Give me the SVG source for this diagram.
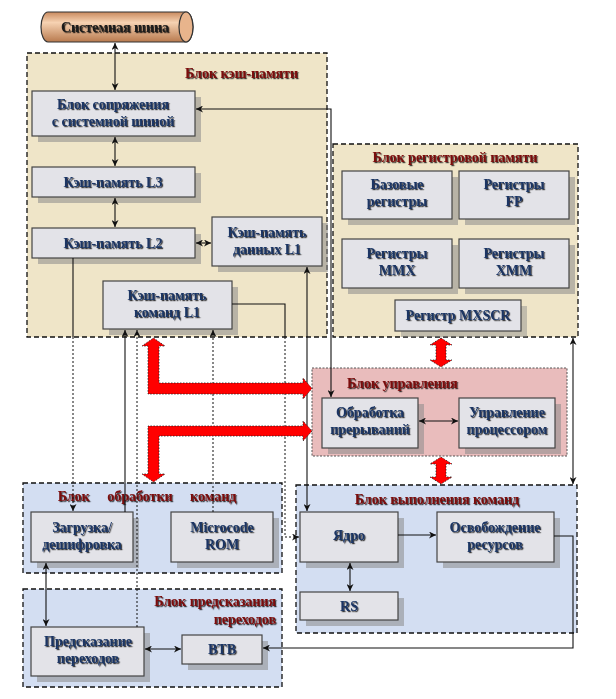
<svg xmlns="http://www.w3.org/2000/svg" width="616" height="699" viewBox="0 0 616 699">
<defs>
<linearGradient id="cyl" x1="0" y1="0" x2="0" y2="1">
<stop offset="0" stop-color="#C98A5E"/>
<stop offset="0.35" stop-color="#F6D2B2"/>
<stop offset="1" stop-color="#B87A4E"/>
</linearGradient>
<filter id="ts" x="-10%" y="-30%" width="130%" height="160%">
<feDropShadow dx="1.2" dy="1.2" stdDeviation="0.4" flood-color="#000" flood-opacity="0.75"/>
</filter>
<marker id="ah" viewBox="0 0 10 10" refX="10" refY="5" markerWidth="7" markerHeight="7" orient="auto-start-reverse" markerUnits="userSpaceOnUse">
<path d="M0,0 L10,5 L0,10 L3,5 Z" fill="#111"/>
</marker>
</defs>
<style>
.blk{stroke:#111;stroke-width:1.3;stroke-dasharray:5,3}
.tan{fill:#EFE5C8}
.blue{fill:#D3DEF2}
.pink{fill:#E9BCBC}
.box{fill:#E3E3E8;stroke:#444;stroke-width:1.2}
.sh{fill:#8a8a8a;opacity:0.55}
.t{font-family:"Liberation Serif","Times New Roman",serif;font-weight:bold;font-size:14px;fill:#1B3563;text-anchor:middle;filter:url(#ts)}
.tt{font-family:"Liberation Serif","Times New Roman",serif;font-weight:bold;font-size:14px;fill:#7A0A0A;filter:url(#ts)}
.ln{fill:none;stroke:#111;stroke-width:1.1}
.dl{fill:none;stroke:#111;stroke-width:1;stroke-dasharray:2,2}
.red{fill:#FF0000;stroke:#222;stroke-width:0.8;stroke-dasharray:1.5,1.5}
</style>
<rect width="616" height="699" fill="#fff"/>

<!-- system bus -->
<g id="bus">
<path d="M48,12 H186 A7,15 0 0 1 186,42 H48 A7,15 0 0 1 48,12 Z" fill="url(#cyl)" stroke="#333" stroke-width="1.2"/>
<ellipse cx="186" cy="27" rx="7" ry="15" fill="#E8B48C" stroke="#333" stroke-width="1.2"/>
<text class="t" x="115" y="32" style="fill:#1a1a1a">Системная шина</text>
</g>

<!-- cache block -->
<g id="cache-block">
<rect class="blk tan" x="27" y="53" width="300" height="284"/>
<text class="tt" x="185" y="78">Блок кэш-памяти</text>
</g>
<g id="bus-interface">
<rect class="sh" x="38" y="97" width="163" height="45"/>
<rect class="box" x="32" y="91" width="163" height="45"/>
<text class="t" x="113" y="109">Блок сопряжения<tspan x="113" dy="17">с системной шиной</tspan></text>
</g>
<g id="l3">
<rect class="sh" x="38" y="173" width="163" height="30"/>
<rect class="box" x="32" y="167" width="163" height="30"/>
<text class="t" x="113" y="187">Кэш-память L3</text>
</g>
<g id="l2">
<rect class="sh" x="38" y="234" width="163" height="30"/>
<rect class="box" x="32" y="228" width="163" height="30"/>
<text class="t" x="113" y="248">Кэш-память L2</text>
</g>
<g id="l1-data">
<rect class="sh" x="218" y="223" width="110" height="49"/>
<rect class="box" x="212" y="217" width="110" height="49"/>
<text class="t" x="267" y="237">Кэш-память<tspan x="267" dy="17">данных L1</tspan></text>
</g>
<g id="l1-instr">
<rect class="sh" x="109" y="287" width="129" height="48"/>
<rect class="box" x="103" y="281" width="129" height="48"/>
<text class="t" x="167" y="300">Кэш-память<tspan x="167" dy="17">команд L1</tspan></text>
</g>

<!-- register block -->
<g id="reg-block">
<rect class="blk tan" x="333" y="144" width="245" height="193"/>
<text class="tt" x="455" y="162" text-anchor="middle">Блок регистровой памяти</text>
</g>
<g id="base-regs">
<rect class="sh" x="348" y="177" width="110" height="48"/>
<rect class="box" x="342" y="171" width="110" height="48"/>
<text class="t" x="397" y="189">Базовые<tspan x="397" dy="17">регистры</tspan></text>
</g>
<g id="fp-regs">
<rect class="sh" x="465" y="177" width="110" height="48"/>
<rect class="box" x="459" y="171" width="110" height="48"/>
<text class="t" x="514" y="189">Регистры<tspan x="514" dy="17">FP</tspan></text>
</g>
<g id="mmx-regs">
<rect class="sh" x="348" y="245" width="110" height="49"/>
<rect class="box" x="342" y="239" width="110" height="49"/>
<text class="t" x="397" y="258">Регистры<tspan x="397" dy="17">MMX</tspan></text>
</g>
<g id="xmm-regs">
<rect class="sh" x="465" y="245" width="110" height="49"/>
<rect class="box" x="459" y="239" width="110" height="49"/>
<text class="t" x="514" y="258">Регистры<tspan x="514" dy="17">XMM</tspan></text>
</g>
<g id="mxscr">
<rect class="sh" x="401" y="306" width="126" height="31" style="opacity:0.45"/>
<rect class="box" x="395" y="300" width="126" height="31"/>
<text class="t" x="458" y="320">Регистр MXSCR</text>
</g>

<!-- control block -->
<g id="control-block">
<rect class="pink" x="312" y="368" width="255" height="88" stroke="#555" stroke-width="1" stroke-dasharray="2,1.5"/>
<text class="tt" x="347" y="388">Блок управления</text>
</g>
<g id="interrupts">
<rect class="sh" x="328" y="404" width="96" height="50"/>
<rect class="box" x="322" y="398" width="96" height="50"/>
<text class="t" x="370" y="417">Обработка<tspan x="370" dy="17">прерываний</tspan></text>
</g>
<g id="cpu-control">
<rect class="sh" x="465" y="404" width="96" height="50"/>
<rect class="box" x="459" y="398" width="96" height="50"/>
<text class="t" x="507" y="417">Управление<tspan x="507" dy="17">процессором</tspan></text>
</g>

<!-- instruction processing block -->
<g id="decode-block">
<rect class="blk blue" x="23" y="483" width="259" height="90"/>
<text class="tt" x="147" y="501" text-anchor="middle" word-spacing="14">Блок обработки команд</text>
</g>
<g id="fetch-decode">
<rect class="sh" x="37" y="518" width="102" height="50"/>
<rect class="box" x="31" y="512" width="102" height="50"/>
<text class="t" x="82" y="532">Загрузка/<tspan x="82" dy="17">дешифровка</tspan></text>
</g>
<g id="microcode">
<rect class="sh" x="177" y="518" width="102" height="50"/>
<rect class="box" x="171" y="512" width="102" height="50"/>
<text class="t" x="222" y="532">Microcode<tspan x="222" dy="17">ROM</tspan></text>
</g>

<!-- branch prediction block -->
<g id="branch-block">
<rect class="blk blue" x="23" y="589" width="259" height="98"/>
<text class="tt" x="276" y="606" text-anchor="end">Блок предсказания<tspan x="276" dy="18">переходов</tspan></text>
</g>
<g id="branch-pred">
<rect class="sh" x="37" y="633" width="113" height="49"/>
<rect class="box" x="31" y="627" width="113" height="49"/>
<text class="t" x="88" y="646">Предсказание<tspan x="88" dy="17">переходов</tspan></text>
</g>
<g id="btb">
<rect class="sh" x="188" y="641" width="80" height="29"/>
<rect class="box" x="182" y="635" width="80" height="29"/>
<text class="t" x="222" y="654">BTB</text>
</g>

<!-- execution block -->
<g id="exec-block">
<rect class="blk blue" x="296" y="485" width="281" height="148"/>
<text class="tt" x="437" y="504" text-anchor="middle">Блок выполнения команд</text>
</g>
<g id="core">
<rect class="sh" x="306" y="518" width="98" height="50"/>
<rect class="box" x="300" y="512" width="98" height="50"/>
<text class="t" x="349" y="540">Ядро</text>
</g>
<g id="retire">
<rect class="sh" x="443" y="518" width="117" height="50"/>
<rect class="box" x="437" y="512" width="117" height="50"/>
<text class="t" x="495" y="532">Освобождение<tspan x="495" dy="17">ресурсов</tspan></text>
</g>
<g id="rs">
<rect class="sh" x="306" y="598" width="98" height="28"/>
<rect class="box" x="300" y="592" width="98" height="28"/>
<text class="t" x="349" y="611">RS</text>
</g>

<!-- connectors -->
<g id="connectors">
<path class="ln" d="M115,43 V90" marker-start="url(#ah)" marker-end="url(#ah)"/>
<path class="ln" d="M115,137 V166" marker-start="url(#ah)" marker-end="url(#ah)"/>
<path class="ln" d="M115,198 V227" marker-start="url(#ah)" marker-end="url(#ah)"/>
<path class="ln" d="M196,243 H211" marker-start="url(#ah)" marker-end="url(#ah)"/>
<path class="ln" d="M73,258 V337"/>
<path class="dl" d="M73,337 V511" marker-end="url(#ah)"/>
<path class="ln" d="M125,512 V330" marker-end="url(#ah)"/>
<path class="dl" d="M137,627 V330" marker-end="url(#ah)"/>
<path class="dl" d="M213,512 V330" marker-end="url(#ah)"/>
<path class="ln" d="M232,304 H285 V337"/>
<path class="dl" d="M285,337 V537 H299" marker-end="url(#ah)"/>
<path class="ln" d="M307,267 V511" marker-start="url(#ah)" marker-end="url(#ah)"/>
<path class="ln" d="M196,109 H331 V397" marker-start="url(#ah)" marker-end="url(#ah)"/>
<path class="ln" d="M419,421 H458" marker-start="url(#ah)" marker-end="url(#ah)"/>
<path class="ln" d="M398,535 H436" marker-end="url(#ah)"/>
<path class="ln" d="M350,563 V591" marker-start="url(#ah)" marker-end="url(#ah)"/>
<path class="ln" d="M554,536 H573 V648 H263" marker-end="url(#ah)"/>
<path class="ln" d="M573,338 V484" marker-start="url(#ah)" marker-end="url(#ah)"/>
<path class="ln" d="M46,563 V626" marker-start="url(#ah)" marker-end="url(#ah)"/>
<path class="ln" d="M145,649 H181" marker-start="url(#ah)" marker-end="url(#ah)"/>
<polygon class="red" points="153.5,338 165,346 159,346 159,383 303,383 303,378 312,388.5 303,399 303,394 148,394 148,346 142,346"/>
<polygon class="red" points="153.5,482 165,474 159,474 159,436 303,436 303,441 312,431 303,421 303,426 148,426 148,474 142,474"/>
<polygon class="red" points="441,338 452,345 446,345 446,360 452,360 441,367 430,360 436,360 436,345 430,345"/>
<polygon class="red" points="441,457 452,464 446,464 446,477 452,477 441,484 430,477 436,477 436,464 430,464"/>
</g>
</svg>
